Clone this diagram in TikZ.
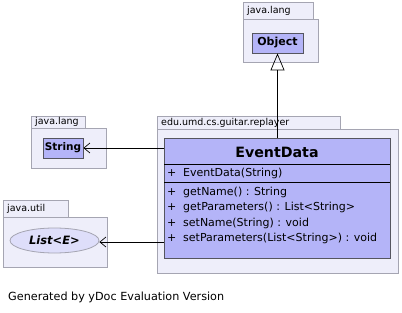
\documentclass[tikz,border=0pt]{standalone}
\usepackage{fontspec}
\setmainfont{DejaVu Sans}
\usetikzlibrary{arrows.meta}
\usetikzlibrary{shapes.geometric}

\definecolor{pkgfill}{RGB}{238,238,250}
\definecolor{pkgline}{RGB}{165,165,178}
\definecolor{clsfill}{RGB}{180,180,248}
\definecolor{clsline}{RGB}{85,85,95}
\definecolor{ifcfill}{RGB}{222,222,250}

\begin{document}
\begin{tikzpicture}[x=1pt,y=-1pt,
		pkg/.style={draw=pkgline,fill=pkgfill,line width=0.8pt},
		cls/.style={draw=clsline,fill=clsfill,line width=0.8pt,inner sep=0pt},
		pkgname/.style={anchor=west,font=\fontsize{9.5}{10}\selectfont,inner sep=0pt},
		member/.style={anchor=west,font=\fontsize{11}{12}\selectfont,inner sep=0pt},
		dep/.style={-{Straight Barb[length=6pt,width=10pt]},line width=0.7pt},
		gen/.style={-{Triangle[open,length=17pt,width=14pt]},line width=0.7pt}]

		\useasboundingbox (0,0) rectangle (402,313);

		% java.lang with Object
		\draw[pkg] (243,2) rectangle (313,19);
		\draw[pkg] (243,19) rectangle (318,62);
		\node[pkgname] (langobj) at (247,11) {java.lang};
		\node[cls, minimum width=51pt, minimum height=20pt, font=\bfseries\fontsize{11}{12}\selectfont] (object) at (277.5,43) {Object};

		% java.lang with String
		\draw[pkg] (31,116) rectangle (85,128);
		\draw[pkg] (31,128) rectangle (106,168);
		\node[pkgname] (langstr) at (35,122) {java.lang};
		\node[cls, minimum width=40pt, minimum height=20pt, font=\bfseries\fontsize{10.5}{12}\selectfont] (string) at (63,148) {String};

		% java.util with List
		\draw[pkg] (3,200) rectangle (68,217);
		\draw[pkg] (3,217) rectangle (107,267);
		\node[pkgname] (util) at (7,209) {java.util};
		\node[ellipse, draw=pkgline, fill=ifcfill, line width=0.8pt, inner sep=0pt,
			minimum width=89pt, minimum height=25pt,
			font=\bfseries\itshape\fontsize{11.5}{12}\selectfont] (list) at (54.5,240.5) {List<E>};

		% edu.umd.cs.guitar.replayer with EventData
		\draw[pkg] (157,116) rectangle (340,129);
		\draw[pkg] (157,129) rectangle (398,273);
		\node[pkgname] (replayer) at (161,122.5) {edu.umd.cs.guitar.replayer};
		\node[cls, minimum width=226pt, minimum height=120pt] (evt) at (277,198) {};
		\node[font=\bfseries\fontsize{14.2}{15}\selectfont] (title) at (277,152.5) {EventData};
		\draw[line width=0.8pt] (164,164) -- (390,164);
		\draw[line width=0.8pt] (164,182) -- (390,182);

		\node[member] (vis1) at (167,173.5) {+};
		\node[member] (ctor) at (183,173.5) {EventData(String)};
		\node[member] (vis2) at (167,192) {+};
		\node[member] (getname) at (183,192) {getName() : String};
		\node[member] (vis3) at (167,207.5) {+};
		\node[member] (getparams) at (183,207.5) {getParameters() : List<String>};
		\node[member] (vis4) at (167,223) {+};
		\node[member] (setname) at (183,223) {setName(String) : void};
		\node[member] (vis5) at (167,238.5) {+};
		\node[member] (setparams) at (183,238.5) {setParameters(List<String>) : void};

		% relations
		\draw[gen] (evt.north -| object.south) -- (object.south);
		\draw[dep] (string.east -| evt.west) -- (string.east);
		\draw[dep] (evt.west |- 0,242) -- (list.east |- 0,242);

		\node[anchor=west, inner sep=0pt, font=\fontsize{11.2}{12}\selectfont] (footer) at (8,297) {Generated by yDoc Evaluation Version};
	\end{tikzpicture}
\end{document}
